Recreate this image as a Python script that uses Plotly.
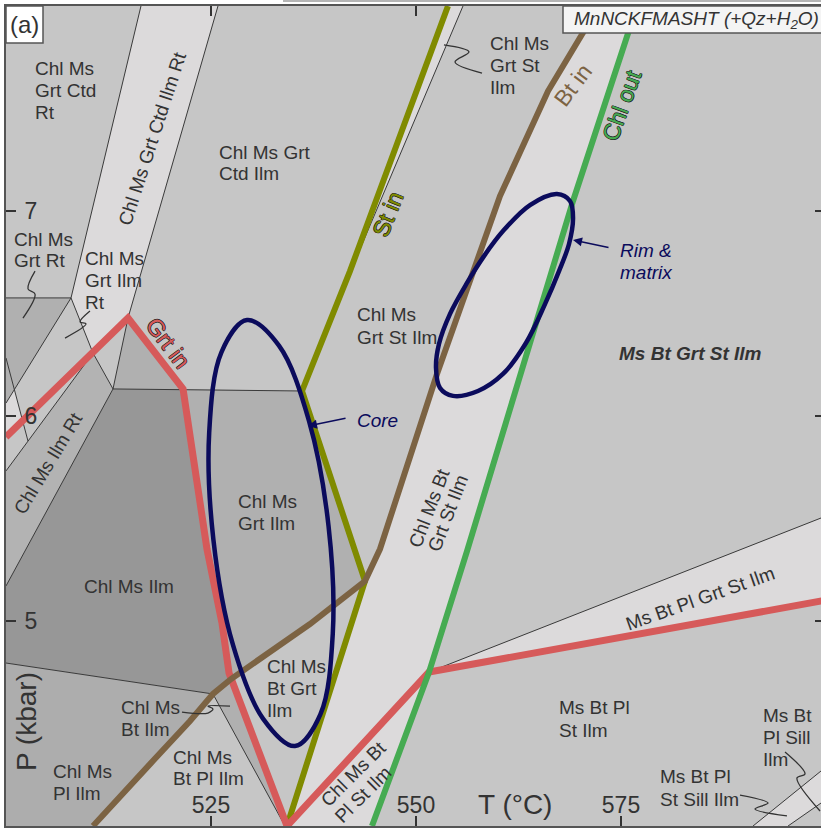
import plotly.graph_objects as go

FONT = "Liberation Sans, Arial, sans-serif"
TXT = "#333333"

# ---------------- axes ----------------
T_RANGE = [500.0, 599.39]
P_RANGE = [4.0, 8.0]
T_TICKS = [525, 550, 575]
P_TICKS = [5, 6, 7]

# ---------------- coloured reaction lines (T degC, P kbar) ----------------
grt_in_T = [500.0, 514.88, 521.59, 524.51, 526.34, 527.20, 534.27]
grt_in_P = [5.898, 6.478, 6.132, 5.351, 4.990, 4.746, 4.0]
grt_in2_T = [534.27, 551.59, 600.0]
grt_in2_P = [4.0, 4.751, 5.102]
chl_out_T = [576.95, 569.15, 556.22, 551.59, 544.63]
chl_out_P = [8.0, 7.049, 5.341, 4.751, 4.0]
bt_in_T = [572.32, 566.10, 560.24, 556.95, 552.56, 545.61, 543.78, 537.07,
           532.20, 527.44, 525.24, 522.44, 517.56, 510.61]
bt_in_P = [8.0, 7.585, 7.073, 6.707, 6.205, 5.351, 5.195, 4.985,
           4.849, 4.717, 4.644, 4.512, 4.302, 4.0]
st_in_T = [553.90, 541.95, 536.10, 543.78, 534.27]
st_in_P = [8.0, 6.707, 6.122, 5.195, 4.0]

# ---------------- thin field boundaries ----------------
thin_T = [
    [516.46, 507.93], [525.85, 514.88], [500.0, 507.93],
    [507.93, 510.61, 513.05], [514.88, 513.05], [513.05, 536.10],
    [513.05, 500.0], [500.0, 510.61], [507.93, 500.0], [500.0, 502.68],
    [500.0, 525.24], [525.24, 534.02], [551.59, 600.0], [555.73, 540.49],
    [591.10, 600.0], [595.37, 600.0],
]
thin_P = [
    [8.0, 6.576], [8.0, 6.478], [6.576, 6.576],
    [6.576, 6.307, 6.132], [6.478, 6.132], [6.132, 6.122],
    [6.132, 5.171], [5.732, 6.307], [6.576, 6.063], [6.283, 5.878],
    [4.795, 4.644], [4.644, 4.0], [4.751, 5.512], [8.0, 6.561],
    [4.0, 4.288], [4.0, 4.129],
]

# ---------------- shaded fields ----------------
C_LIGHT, C_MED, C_DARK, C_PL, C_RT = "#dcdadb", "#b0b0b0", "#979797", "#adadad", "#b3b3b3"
field_T = [
    [500.0, 507.93, 500.0],
    [501.02, 500.0, 500.0, 502.02],
    [516.46, 525.85, 514.88, 510.61, 507.93],
    [514.88, 521.59, 513.05],
    [500.0, 510.61, 513.05, 500.0],
    [500.0, 513.05, 521.59, 524.51, 526.34, 527.20, 527.44, 525.24, 500.0],
    [521.59, 536.10, 543.78, 537.07, 532.20, 527.44, 527.20, 526.34, 524.51],
    [500.0, 525.24, 522.44, 517.56, 510.61, 500.0],
    [525.24, 527.44, 534.27, 534.02],
    [553.90, 555.73, 540.49],
    [572.32, 566.10, 560.24, 556.95, 552.56, 545.61, 543.78, 534.27, 544.63,
     551.59, 556.22, 569.15, 576.95],
    [551.59, 600.0, 600.0],
    [591.10, 600.0, 600.0, 595.37],
]
field_P = [
    [6.576, 6.576, 6.063],
    [6.129, 6.063, 5.898, 5.977],
    [8.0, 8.0, 6.478, 6.307, 6.576],
    [6.478, 6.132, 6.132],
    [5.732, 6.307, 6.132, 5.171],
    [5.171, 6.132, 6.132, 5.351, 4.990, 4.746, 4.717, 4.644, 4.795],
    [6.132, 6.122, 5.195, 4.985, 4.849, 4.717, 4.746, 4.990, 5.351],
    [4.795, 4.644, 4.512, 4.302, 4.0, 4.0],
    [4.644, 4.717, 4.0, 4.0],
    [8.0, 8.0, 6.561],
    [8.0, 7.585, 7.073, 6.707, 6.205, 5.351, 5.195, 4.0, 4.0,
     4.751, 5.341, 7.049, 8.0],
    [4.751, 5.512, 5.102],
    [4.0, 4.288, 4.129, 4.0],
]
field_color = [C_MED, C_LIGHT, C_LIGHT, C_MED, C_RT, C_DARK, C_MED, C_PL,
               C_MED, C_LIGHT, C_LIGHT, C_LIGHT, C_LIGHT]

# ---------------- P-T estimate ellipses ----------------
core_T = [539.34, 536.95, 533.29, 529.39, 526.28, 524.78, 525.29, 527.68,
          531.34, 535.24, 538.35, 539.85, 539.34]
core_P = [5.461, 5.976, 6.343, 6.468, 6.312, 5.920, 5.398, 4.883,
          4.524, 4.390, 4.546, 4.938, 5.461]
rim_T = [560.61, 563.90, 567.20, 568.78, 569.15, 568.66, 567.44, 565.73, 563.41,
         560.61, 557.56, 554.51, 552.93, 552.44, 552.80, 554.15, 556.22, 558.29, 560.61]
rim_P = [6.902, 7.029, 7.083, 7.049, 6.966, 6.839, 6.707, 6.546, 6.356,
         6.205, 6.122, 6.098, 6.137, 6.234, 6.351, 6.498, 6.649, 6.780, 6.902]

# ---------------- leader squiggles ----------------
leader_T = [
    [558.05, 554.76, 556.46, 553.41],
    [503.54, 502.68, 503.54, 502.07],
    [510.24, 509.02, 509.76, 507.20],
    [521.46, 524.63, 525.24, 524.63, 527.32],
    [589.51, 592.93, 591.34, 595.24],
    [595.00, 597.44, 596.46, 599.27],
]
leader_P = [
    [7.673, 7.727, 7.776, 7.810],
    [6.707, 6.620, 6.595, 6.478],
    [6.512, 6.459, 6.449, 6.380],
    [4.556, 4.551, 4.571, 4.585, 4.585],
    [4.151, 4.112, 4.083, 4.049],
    [4.361, 4.254, 4.234, 4.073],
]

# ---------------- field labels (left aligned, one entry per line) ----------------
lab_lines = [
    ["Chl Ms", "Grt Ctd", "Rt"],
    ["Chl Ms Grt", "Ctd Ilm"],
    ["Chl Ms", "Grt St", "Ilm"],
    ["Chl Ms", "Grt Rt"],
    ["Chl Ms", "Grt Ilm", "Rt"],
    ["Chl Ms", "Grt Ilm"],
    ["Chl Ms Ilm"],
    ["Chl Ms", "Grt St Ilm"],
    ["Chl Ms", "Bt Grt", "Ilm"],
    ["Chl Ms", "Bt Ilm"],
    ["Chl Ms", "Pl Ilm"],
    ["Chl Ms", "Bt Pl Ilm"],
    ["Ms Bt Pl", "St Ilm"],
    ["Ms Bt Pl", "St Sill Ilm"],
    ["Ms Bt", "Pl Sill", "Ilm"],
]
lab_T = [503.29, 525.73, 558.78, 500.73, 509.39, 528.05, 509.27, 542.56,
         531.59, 513.78, 505.49, 520.12, 567.20, 579.51, 592.07]
lab_P = [7.693, 7.283, 7.815, 6.859, 6.766, 5.585, 5.166, 6.493,
         4.780, 4.580, 4.268, 4.332, 4.576, 4.241, 4.541]
lab_step = [22, 21, 22, 21, 22, 22, 22, 23, 22, 22, 22, 21, 23, 23, 22]

# rotated labels (one entry per text line, centred)
rot_text = ["Chl Ms Grt Ctd Ilm Rt", "Chl Ms Ilm Rt", "Chl Ms Bt", "Grt St Ilm",
            "Chl Ms Bt", "Pl St Ilm", "Ms Bt Pl Grt St Ilm"]
rot_T = [517.80, 505.24, 551.59, 553.96, 542.40, 543.55, 584.63]
rot_P = [7.356, 5.771, 5.549, 5.527, 4.255, 4.152, 5.112]
rot_ang = [-72, -59, -69, -69, -45, -45, -19.5]

# reaction-line labels
rx_text = ["Grt in", "St in", "Bt in", "Chl out"]
rx_T = [519.76, 546.59, 569.15, 575.12]
rx_P = [6.356, 6.985, 7.615, 7.517]
rx_ang = [53, -68, -53, -70]

RED, OLIVE, BROWN, GREEN, NAVY = "#d65a5a", "#808b00", "#7c6343", "#46ab52", "#0b0b5c"
rx_col = [RED, OLIVE, BROWN, GREEN]

fig = go.Figure()

for tx, py, col in zip(field_T, field_P, field_color):
    fig.add_trace(go.Scatter(x=tx, y=py, mode="lines", fill="toself", fillcolor=col,
                             line=dict(width=0, color=col), hoverinfo="skip", showlegend=False))


def joined(seg_lists):
    out = []
    for s in seg_lists:
        out += list(s) + [None]
    return out


fig.add_trace(go.Scatter(x=joined(thin_T), y=joined(thin_P), mode="lines",
                         line=dict(color="#3a3a3a", width=1), hoverinfo="skip", showlegend=False))

for tx, py, col, w in [(st_in_T, st_in_P, OLIVE, 6), (grt_in_T, grt_in_P, RED, 7),
                       (grt_in2_T, grt_in2_P, RED, 7), (chl_out_T, chl_out_P, GREEN, 6),
                       (bt_in_T, bt_in_P, BROWN, 6)]:
    fig.add_trace(go.Scatter(x=tx, y=py, mode="lines", line=dict(color=col, width=w),
                             hoverinfo="skip", showlegend=False))

for tx, py in zip(leader_T, leader_P):
    fig.add_trace(go.Scatter(x=tx, y=py, mode="lines",
                             line=dict(color="#333", width=1.3, shape="spline"),
                             hoverinfo="skip", showlegend=False))

for tx, py in [(core_T, core_P), (rim_T, rim_P)]:
    fig.add_trace(go.Scatter(x=tx, y=py, mode="lines",
                             line=dict(color=NAVY, width=4.5, shape="spline", smoothing=1.0),
                             hoverinfo="skip", showlegend=False))

# dummy trace to carry the right-hand tick axis
fig.add_trace(go.Scatter(x=[None], y=[None], yaxis="y2", showlegend=False, hoverinfo="skip"))

for lines, t, p, st in zip(lab_lines, lab_T, lab_P, lab_step):
    for i, s in enumerate(lines):
        fig.add_annotation(x=t, y=p, text=s, xanchor="left", yanchor="middle", yshift=-i * st,
                           showarrow=False, font=dict(family=FONT, size=19, color=TXT))

for s, t, p, a in zip(rot_text, rot_T, rot_P, rot_ang):
    fig.add_annotation(x=t, y=p, text=s, textangle=a, showarrow=False,
                       xanchor="center", yanchor="middle",
                       font=dict(family=FONT, size=19, color=TXT))

OUTLINE = "0.5px 0.5px 0 #222, -0.5px -0.5px 0 #222, 0.5px -0.5px 0 #222, -0.5px 0.5px 0 #222"
for s, t, p, a, c in zip(rx_text, rx_T, rx_P, rx_ang, rx_col):
    fig.add_annotation(x=t, y=p, text=s, textangle=a, showarrow=False,
                       font=dict(family=FONT, size=23, color=c,
                                 shadow=("none" if c == BROWN else OUTLINE)))

# bold field label
fig.add_annotation(x=574.51, y=6.307, text="<b><i>Ms Bt Grt St Ilm</i></b>", xanchor="left",
                   yanchor="middle", showarrow=False, font=dict(family=FONT, size=19, color=TXT))

# Core / Rim labels and arrows
fig.add_annotation(x=542.56, y=5.976, text="<i>Core</i>", xanchor="left", yanchor="middle",
                   showarrow=False, font=dict(family=FONT, size=19, color=NAVY))
fig.add_annotation(x=574.63, y=6.805, text="<i>Rim &</i>", xanchor="left", yanchor="middle",
                   showarrow=False, font=dict(family=FONT, size=19, color=NAVY))
fig.add_annotation(x=574.63, y=6.805, text="<i>matrix</i>", xanchor="left", yanchor="middle",
                   yshift=-22, showarrow=False, font=dict(family=FONT, size=19, color=NAVY))
fig.add_annotation(x=536.83, y=5.951, ax=541.59, ay=5.990, axref="x", ayref="y", text="",
                   showarrow=True, arrowhead=2, arrowsize=1.2, arrowwidth=1.5, arrowcolor=NAVY)
fig.add_annotation(x=569.15, y=6.859, ax=573.66, ay=6.820, axref="x", ayref="y", text="",
                   showarrow=True, arrowhead=2, arrowsize=1.2, arrowwidth=1.5, arrowcolor=NAVY)

# axis titles (inside the frame)
fig.add_annotation(x=562.07, y=4.107, text="T (°C)", showarrow=False,
                   xanchor="center", yanchor="middle",
                   font=dict(family=FONT, size=28, color=TXT))
fig.add_annotation(x=502.44, y=4.507, text="P (kbar)", textangle=-90, showarrow=False,
                   xanchor="center", yanchor="middle",
                   font=dict(family=FONT, size=28, color=TXT))

# panel tag and system box
fig.add_shape(type="rect", xref="paper", yref="paper", x0=0, x1=37 / 815, y0=1 - 37 / 820, y1=1,
              fillcolor="white", line=dict(color="#555", width=1.5), layer="above")
fig.add_annotation(xref="paper", yref="paper", x=18.5 / 815, y=1 - 18 / 820, text="(a)",
                   xanchor="center", yanchor="middle",
                   showarrow=False, font=dict(family=FONT, size=24, color=TXT))
fig.add_shape(type="rect", xref="paper", yref="paper", x0=557 / 815, x1=1.02, y0=1 - 27 / 820, y1=1,
              fillcolor="#f4f4f4", line=dict(color="#555", width=1.5), layer="above")
fig.add_annotation(xref="paper", yref="paper", x=566 / 815, y=1 - 14 / 820, xanchor="left",
                   yanchor="middle", text="<i>MnNCKFMASHT (+Qz+H<sub>2</sub>O)</i>",
                   showarrow=False, font=dict(family=FONT, size=19, color=TXT))
fig.add_shape(type="line", xref="paper", yref="paper", x0=277 / 815, x1=1.0,
              y0=1 + 5 / 820, y1=1 + 5 / 820, line=dict(color="#b5b5b5", width=2))

tickfont = dict(family=FONT, size=23, color=TXT)
fig.update_layout(
    width=821, height=828,
    margin=dict(l=6, r=0, t=6, b=2, autoexpand=False),
    paper_bgcolor="white", plot_bgcolor="#c6c6c6",
    hovermode=False, showlegend=False,
    xaxis=dict(range=T_RANGE, tickvals=T_TICKS, ticks="inside", ticklen=10, tickwidth=1.5,
               tickcolor="#333", ticklabelposition="inside", showline=True, linecolor="#555",
               linewidth=2, mirror="ticks", showgrid=False, zeroline=False, tickfont=tickfont),
    yaxis=dict(range=P_RANGE, tickvals=P_TICKS, ticks="inside", ticklen=10, tickwidth=1.5,
               tickcolor="#333", ticklabelposition="inside", ticklabelstandoff=10,
               showline=True, linecolor="#555",
               linewidth=2, showgrid=False, zeroline=False, tickfont=tickfont),
    yaxis2=dict(range=P_RANGE, overlaying="y", side="right", tickvals=P_TICKS, ticks="inside",
                ticklen=6, tickwidth=1.5, tickcolor="#333", showticklabels=False,
                showline=False, showgrid=False, zeroline=False),
)

fig.write_html("out.html")
